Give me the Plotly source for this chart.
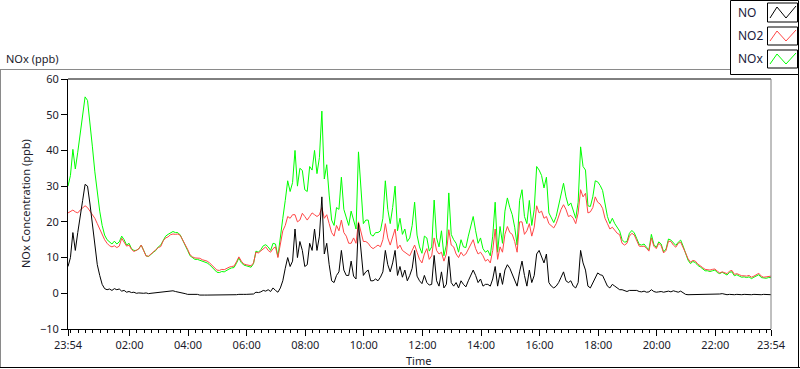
import plotly.graph_objects as go

# ---------------- data (minutes after 23:54, 5-minute samples) ----------------
minutes = list(range(0, 1441, 5))

no = [
    7.5, 10, 17, 12, 17, 21, 26, 30.5, 30, 25, 19, 13,
    8, 5, 2.5, 1.3, 1.0, 1.2, 0.8, 1.3, 1.0, 1.2, 0.6, 0.8,
    0.3, 0.5, 0.2, 0.3, 0.0, 0.1, 0.0, 0.0, 0.1, -0.1, 0.0, 0.1,
    0.0, 0.2, 0.4, 0.3, 0.5, 0.7, 0.6, 0.7, 0.5, 0.4, 0.1, 0.0,
    -0.1, -0.3, -0.3, -0.2, -0.4, -0.3, -0.5, -0.4, -0.5, -0.5, -0.5, -0.5,
    -0.6, -0.6, -0.6, -0.6, -0.6, -0.5, -0.5, -0.4, -0.4, -0.4, -0.3, -0.4,
    -0.3, -0.3, -0.3, -0.4, -0.2, 0.3, 0.2, 0.4, 0.8, 0.6, 1.0, 0.5,
    1.5, 0.8, 0.3, 1.5, 3.5, 7, 10, 7.5, 9, 18, 10, 14.5,
    12, 7.5, 8, 14, 12, 18, 12, 16, 27, 11, 14, 8,
    3.5, 3, 5, 6, 12, 6.5, 5, 5, 9, 4.8, 4, 19.6,
    11, 5, 6, 6.5, 3.5, 3.5, 4, 3.5, 4.5, 6, 12, 8,
    6, 8.5, 12, 5, 7.5, 4.5, 6.5, 3.5, 5, 7, 12, 4.8,
    3.5, 2.7, 5, 3, 2.3, 2.5, 10.6, 3.5, 2, 6, 1.5, 2.5,
    10.3, 3, 2, 3, 1.5, 3.5, 2.5, 1.8, 3.5, 5, 6.5, 5,
    3, 4, 2, 2.5, 2.5, 2, 4, 7.5, 2, 5.7, 2.5, 6.5,
    8, 7, 5.5, 4, 2, 6, 9, 5, 2, 6.5, 3, 5,
    11, 12, 10, 8.5, 11, 3, 2, 1.5, 2, 3, 4.5, 6,
    3.5, 3, 3.5, 2, 1.5, 3, 12, 8.5, 6.5, 2, 1.5, 3,
    4.5, 5.7, 5.2, 5, 3.5, 2, 1.5, 2.5, 2, 1.5, 1, 1,
    0.8, 0.5, 0.8, 0.8, 0.6, 0.8, 0.5, 0.4, 0.6, 0.3, 0.4, 1.0,
    0.5, 0.3, 0.4, 0.5, 0.3, 0.4, 0.6, 0.4, 0.7, 0.5, 0.3, 0.6,
    0.2, -0.3, -0.4, -0.4, -0.3, -0.4, -0.4, -0.2, -0.4, -0.4, -0.3, -0.4,
    -0.4, -0.3, -0.4, -0.2, -0.1, -0.3, -0.4, -0.3, -0.4, -0.4, -0.3, -0.4,
    -0.4, -0.3, -0.4, -0.4, -0.4, -0.3, -0.4, -0.4, -0.4, -0.3, -0.4, -0.4,
    -0.4,
]

no2 = [
    22.5, 23, 23.3, 22.8, 22.5, 23.3, 24, 24.5, 24, 23, 22, 21,
    19.5, 18, 16.5, 15, 14, 13.3, 13, 13.3, 12.8, 13.2, 15.4, 14.2,
    13.2, 13.5, 12.3, 11.7, 12, 12.4, 13.5, 12, 10.4, 10.4, 11, 11.4,
    12, 12.8, 13.1, 14.7, 15.5, 15.8, 16.4, 16.6, 16.5, 16.6, 16.2, 15,
    13.6, 12.3, 10.8, 10.2, 9.9, 9.8, 9.8, 9.4, 9.3, 9, 8.5, 7.8,
    7, 6.5, 6.4, 6.7, 6.6, 7.0, 7.3, 7.5, 7.6, 8.8, 10.2, 9,
    8.2, 8, 7.8, 7.7, 8.5, 11.5, 11.3, 11.8, 12.5, 13, 12, 11.5,
    12.5, 13, 10, 13.5, 17.5, 19, 21.5, 21, 22, 22, 20, 20.5,
    22.4, 21.5, 20.5, 21.5, 22.5, 22, 21.5, 22, 24, 21, 22, 19.5,
    17, 16, 19, 17.5, 20.5, 17, 16, 14, 14, 15.5, 14, 20,
    17, 14.5, 14.5, 14, 13, 12.5, 13, 13.5, 13, 15, 19.5, 15.5,
    13.5, 15.5, 18, 12.5, 13.5, 12, 11.5, 11, 10.5, 12, 13.5, 11.5,
    9.5, 8.5, 11, 12.5, 9.5, 10.5, 15.5, 12, 11, 11.5, 9, 11,
    17.8, 13.5, 13, 11, 10, 11.5, 10.5, 11, 12.5, 14, 15, 12.5,
    11, 11.5, 10.5, 9, 9.5, 8.5, 12, 18, 9.5, 13, 11.5, 16.5,
    18.7, 17, 16.5, 14.5, 11.5, 20, 20, 16.5, 17.5, 19.5, 16, 18.5,
    24.5, 22.5, 23, 21, 21.5, 19.5, 19, 18.3, 19.5, 21.5, 23.5, 24.8,
    23.5, 21.5, 21.8, 21, 19.5, 22.5, 29, 27, 28, 22.5, 22.8, 24,
    27, 25.5, 25, 23.8, 21, 19.5, 18, 18.5, 17.5, 16.8, 16.4, 14,
    13.5, 14, 16, 16.8, 16.3, 14.5, 13.2, 13.1, 13.2, 12.6, 11.8, 15.5,
    13.2, 12.5, 14, 13.3, 11.3, 12, 14.6, 14.5, 13.5, 12.9, 14, 14.3,
    13, 11.3, 9.7, 8.7, 9.2, 9, 8.2, 7.6, 7.2, 6.7, 6.6, 6.5,
    6.7, 6.8, 6.2, 5.7, 6.0, 5.8, 5.5, 6.2, 6.4, 5.3, 5.5, 5.2,
    4.9, 4.9, 4.8, 5.0, 4.5, 4.8, 5.3, 5.6, 4.8, 4.5, 4.6, 4.8,
    4.8,
]

nox = [
    30, 33, 40.3, 34.8, 39.5, 44.3, 50, 55, 54, 48, 41, 34,
    27.5, 23, 19, 16.3, 15, 14.5, 13.8, 14.6, 13.8, 14.4, 16, 15,
    13.5, 14, 12.5, 12, 12, 12.5, 13.5, 12, 10.5, 10.3, 11, 11.5,
    12, 13, 13.5, 15, 16, 16.5, 17, 17.3, 17, 17, 16.3, 15,
    13.5, 12, 10.5, 10, 9.5, 9.5, 9.3, 9, 8.8, 8.5, 8, 7.3,
    6.4, 5.9, 5.8, 6.1, 6, 6.5, 6.8, 7.1, 7.2, 8.4, 9.9, 8.6,
    7.9, 7.7, 7.5, 7.3, 8.3, 11.8, 11.5, 12.2, 13.3, 13.6, 13, 12,
    14, 13.8, 10.3, 15, 21, 26, 31.5, 28.5, 31, 40, 30, 35,
    34.4, 29, 28.5, 35.5, 34.5, 40, 33.5, 38, 51, 32, 36, 27.5,
    20.5, 19, 24, 23.5, 32.5, 23.5, 21, 19, 23, 20.3, 18, 39.6,
    28, 19.5, 20.5, 20.5, 16.5, 16, 17, 17, 17.5, 21, 31.5, 23.5,
    19.5, 24, 30, 17.5, 21, 16.5, 18, 14.5, 15.5, 19, 25.5, 16.3,
    13, 11.2, 16, 15.5, 11.8, 13, 26.1, 15.5, 13, 17.5, 10.5, 13.5,
    28.1, 16.5, 15, 14, 11.5, 15, 13, 12.8, 16, 19, 21.5, 17.5,
    14, 15.5, 12.5, 11.5, 12, 10.5, 16, 25.5, 11.5, 18.7, 14, 23,
    26.7, 24, 22, 18.5, 13.5, 26, 29, 21.5, 19.5, 26, 19, 23.5,
    35.5, 34.5, 33, 29.5, 32.5, 22.5, 21, 19.8, 21.5, 24.5, 28, 30.8,
    27, 24.5, 25.3, 23, 21, 25.5, 41, 35.5, 34.5, 24.5, 24.3, 27,
    31.5, 31.2, 30.2, 28.8, 24.5, 21.5, 19.5, 21, 19.5, 18.3, 17.4, 15,
    14.3, 14.5, 16.8, 17.6, 16.9, 15.3, 13.7, 13.5, 13.8, 12.9, 12.2, 16.5,
    13.7, 12.8, 14.4, 13.8, 11.6, 12.4, 15.2, 14.9, 14.2, 13.4, 14.3, 14.9,
    13.2, 11, 9.3, 8.3, 8.9, 8.6, 7.8, 7.4, 6.8, 6.3, 6.3, 6.1,
    6.3, 6.5, 5.8, 5.5, 5.9, 5.5, 5.1, 5.9, 6, 4.9, 5.2, 4.8,
    4.5, 4.6, 4.4, 4.6, 4.1, 4.5, 4.9, 5.2, 4.4, 4.2, 4.2, 4.4,
    4.4,
]

tick_minutes = [0, 126, 246, 366, 486, 606, 726, 846, 966, 1086, 1206, 1326, 1440]
tick_labels = ["23:54", "02:00", "04:00", "06:00", "08:00", "10:00", "12:00",
               "14:00", "16:00", "18:00", "20:00", "22:00", "23:54"]
y_ticks = [-10, 0, 10, 20, 30, 40, 50, 60]

series_names = ["NO", "NO2", "NOx"]
series_colors = ["#000000", "#ff4646", "#00ff00"]

# ---------------- layout geometry ----------------
W, H = 800, 369
L, R, T, B = 68, 29, 79, 40
PW = W - L - R
PH = H - T - B


def px(x):
    return (x - L) / PW


def py(y):
    return (H - B - y) / PH


FONT = "Noto Sans"

fig = go.Figure()
for name, color, vals in [("NOx", series_colors[2], nox),
                          ("NO2", series_colors[1], no2),
                          ("NO", series_colors[0], no)]:
    fig.add_trace(go.Scatter(x=minutes, y=vals, mode="lines", name=name,
                             line=dict(color=color, width=1), showlegend=False,
                             hoverinfo="skip"))

shapes = []
# plot frame: top black, right grey
shapes.append(dict(type="line", xref="paper", yref="paper", x0=0, x1=1, y0=1, y1=1,
                   line=dict(color="black", width=1)))
shapes.append(dict(type="line", xref="paper", yref="paper", x0=1, x1=1, y0=0, y1=1,
                   line=dict(color="#808080", width=1)))
# outer panel frame
shapes.append(dict(type="line", xref="paper", yref="paper", x0=px(0), x1=px(730),
                   y0=py(69.5), y1=py(69.5), line=dict(color="#8a8a8a", width=1)))
shapes.append(dict(type="line", xref="paper", yref="paper", x0=px(0.5), x1=px(0.5),
                   y0=py(69.5), y1=py(368), line=dict(color="#8a8a8a", width=1)))
shapes.append(dict(type="line", xref="paper", yref="paper", x0=px(0), x1=px(800),
                   y0=py(367.5), y1=py(367.5), line=dict(color="black", width=1)))
shapes.append(dict(type="line", xref="paper", yref="paper", x0=px(798.5), x1=px(798.5),
                   y0=py(69.5), y1=py(368), line=dict(color="black", width=1)))
# legend box
shapes.append(dict(type="rect", xref="paper", yref="paper", x0=px(730.5), x1=px(798.5),
                   y0=py(0.5), y1=py(74.5), line=dict(color="black", width=1),
                   fillcolor="white"))

annotations = []
legend_rows = [(12.5, 3, 22), (35.5, 27, 45), (58.5, 50, 68)]
for (ty, sy0, sy1), name, color in zip(legend_rows, series_names, series_colors):
    annotations.append(dict(xref="paper", yref="paper", x=px(736), y=py(ty),
                            text=name, showarrow=False, xanchor="left", yanchor="middle",
                            font=dict(family=FONT, size=12, color="#1a1a3a")))
    shapes.append(dict(type="rect", xref="paper", yref="paper", x0=px(767.5), x1=px(797.5),
                       y0=py(sy0), y1=py(sy1), line=dict(color="black", width=1),
                       fillcolor="white"))
    zz = [(770, sy1 - 4), (777, sy0 + 4), (786, sy1 - 4), (796, sy0 + 3)]
    path = "M " + " L ".join(f"{px(a)},{py(b)}" for a, b in zz)
    shapes.append(dict(type="path", xref="paper", yref="paper", path=path,
                       line=dict(color=color, width=1)))

annotations.append(dict(xref="paper", yref="paper", x=px(4), y=py(59), text="NOx (ppb)",
                        showarrow=False, xanchor="left", yanchor="middle",
                        font=dict(family=FONT, size=11, color="#1a1a2a")))
annotations.append(dict(xref="paper", yref="paper", x=px(25), y=py(204),
                        text="NOx Concentration (ppb)", textangle=-90, showarrow=False,
                        xanchor="center", yanchor="middle",
                        font=dict(family=FONT, size=11, color="#1a1a2a")))
annotations.append(dict(xref="paper", yref="paper", x=px(418), y=py(360), text="Time",
                        showarrow=False, xanchor="center", yanchor="middle",
                        font=dict(family=FONT, size=11, color="#1a1a2a")))

fig.update_layout(
    width=W, height=H,
    margin=dict(l=L, r=R, t=T, b=B, pad=0),
    paper_bgcolor="white", plot_bgcolor="white",
    font=dict(family=FONT, size=11, color="#1a1a2a"),
    xaxis=dict(range=[0, 1440], tickmode="array", tickvals=tick_minutes, ticktext=tick_labels,
               ticks="outside", ticklen=6, tickcolor="black", tickwidth=1,
               showline=True, linecolor="black", linewidth=1, showgrid=False, zeroline=False,
               minor=dict(ticks="outside", ticklen=3, tick0=6, dtick=15, tickcolor="black",
                          showgrid=False),
               tickfont=dict(family=FONT, size=11, color="#1a1a2a"), fixedrange=True),
    yaxis=dict(range=[-10, 60], tickmode="array", tickvals=y_ticks,
               ticks="outside", ticklen=6, tickcolor="black", tickwidth=1,
               showline=True, linecolor="black", linewidth=1, showgrid=False, zeroline=False,
               tickfont=dict(family=FONT, size=11, color="#1a1a2a"), fixedrange=True),
    shapes=shapes,
    annotations=annotations,
)

fig.write_html(
    "out.html",
    config={"displayModeBar": False},
    post_script="document.body.style.margin='0';document.body.style.overflow='hidden';",
)
